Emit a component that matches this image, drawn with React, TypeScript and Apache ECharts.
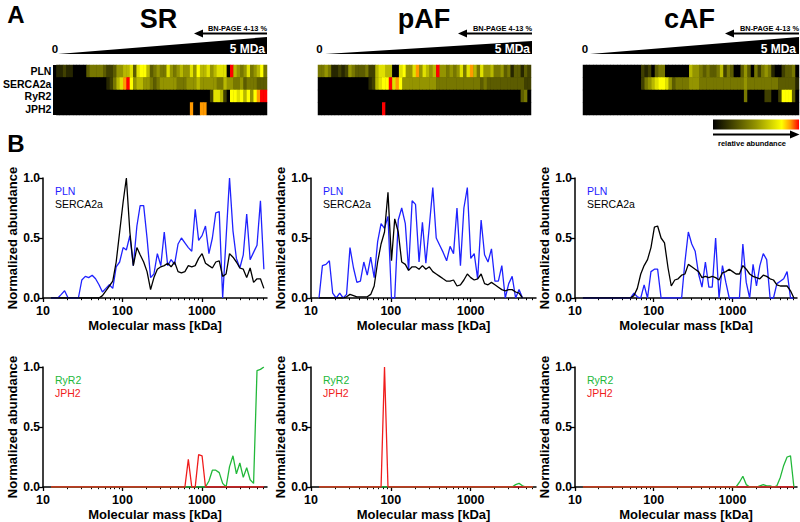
import React, { useEffect, useRef } from "react";
import * as echarts from "echarts";

// ---------- DATA ----------
// Molecular mass of each gel slice (kDa)
const massKDa = [
  12.6, 13.9, 15.4, 17.0, 18.7, 20.7, 22.9, 25.3, 27.9, 30.8,
  34.1, 37.6, 41.6, 45.9, 50.7, 56.0, 61.9, 68.4, 75.5, 83.4,
  92.2, 102, 112, 124, 137, 152, 167, 185, 204, 226,
  249, 275, 304, 336, 371, 410, 453, 501, 553, 611,
  675, 746, 824, 910, 1005, 1110, 1226, 1355, 1496, 1653,
  1826, 2017, 2228, 2462, 2719, 3004, 3318, 3665, 4049, 4473,
  4941, 5458, 6029,
];

const xMajorTicks = [10, 100, 1000];
const xMinorTicks = [20, 30, 40, 50, 60, 70, 80, 90, 200, 300, 400, 500, 600, 700, 800, 900, 2000, 3000, 4000, 5000, 6000];
const xMin = 10;
const xMax = 6600;

const samples = ["SR", "pAF", "cAF"];
const proteins = ["PLN", "SERCA2a", "RyR2", "JPH2"];

// Normalized abundance (line charts)
const srPLN = [
  0, 0, 0, 0.03, 0.06, 0, 0, 0, 0, 0.15,
  0.18, 0.17, 0.19, 0.16, 0.11, 0.05, 0.08, 0.11, 0.08, 0.26,
  0.3, 0.42, 0.4, 0.52, 0.27, 0.6, 0.77, 0.77, 0.5, 0.17,
  0.2, 0.37, 0.27, 0.55, 0.27, 0.32, 0.28, 0.45, 0.5, 0.46,
  0.42, 0.39, 0.74, 0.48, 0.52, 0.6, 0.37, 0.5, 0.71, 0.72,
  0, 0.5, 1.0, 0.56, 0.33, 0.25, 0.36, 0.7, 0.32, 0.38,
  0.44, 0.81, 0.24,
];
const srSERCA = [
  0, 0, 0, 0, 0, 0, 0, 0, 0, 0,
  0, 0, 0, 0, 0, 0.02, 0.06, 0.1, 0.14, 0.3,
  0.55, 0.8, 1.0, 0.55, 0.27, 0.42, 0.36, 0.3, 0.22, 0.07,
  0.17, 0.24, 0.26, 0.27, 0.29, 0.26, 0.3, 0.22, 0.21, 0.22,
  0.27, 0.26, 0.27, 0.33, 0.37, 0.29, 0.27, 0.25, 0.3, 0.31,
  0.18, 0.2, 0.37, 0.34, 0.3, 0.25, 0.24, 0.17, 0.25, 0.13,
  0.16, 0.16, 0.08,
];
const srRyR2 = [
  0, 0, 0, 0, 0, 0, 0, 0, 0, 0,
  0, 0, 0, 0, 0, 0, 0, 0, 0, 0,
  0, 0, 0, 0, 0, 0, 0, 0, 0, 0,
  0, 0, 0, 0, 0, 0, 0, 0, 0, 0,
  0, 0, 0, 0, 0, 0, 0.05, 0.14, 0.14, 0.12,
  0.03, 0, 0.17, 0.26, 0.11, 0.2, 0.08, 0.16, 0.06, 0.03,
  0.97, 0.98, 1.0,
];
const srJPH2 = [
  0, 0, 0, 0, 0, 0, 0, 0, 0, 0,
  0, 0, 0, 0, 0, 0, 0, 0, 0, 0,
  0, 0, 0, 0, 0, 0, 0, 0, 0, 0,
  0, 0, 0, 0, 0, 0, 0, 0, 0, 0,
  0.23, 0, 0, 0.27, 0.26, 0, 0, 0, 0, 0,
  0, 0, 0, 0, 0, 0, 0, 0, 0, 0,
  0, 0, 0,
];

const pafPLN = [
  0, 0.27, 0.28, 0.31, 0.04, 0, 0.04, 0, 0.03, 0.42,
  0.25, 0.13, 0.14, 0.3, 0.19, 0.34, 0.17, 0.47, 0.62, 0.58,
  0.68, 0, 0, 0.65, 0.75, 0.62, 0.23, 0.81, 0.78, 0.3,
  0.63, 0.29, 0.6, 0.92, 0.5, 0.44, 0.38, 0.31, 0.43, 0.37,
  0.75, 0.27, 0.75, 0.92, 0.33, 0.37, 0.16, 0.65, 0.36, 0.3,
  0.41, 0.14, 0.14, 0.27, 0, 0.12, 0.18, 0, 0.07, 0,
  null, null, null,
];
const pafSERCA = [
  0, 0, 0, 0, 0, 0, 0, 0, 0.01, 0.03,
  0.02, 0.01, 0.01, 0.01, 0.01, 0.03, 0.1, 0.3, 0.45, 0.55,
  0.88, 0.31, 0.66, 0.55, 0.3, 0.28, 0.23, 0.26, 0.26, 0.24,
  0.27, 0.24, 0.26, 0.22, 0.2, 0.18, 0.16, 0.14, 0.14, 0.15,
  0.1, 0.11, 0.15, 0.2, 0.17, 0.15, 0.16, 0.2, 0.12, 0.11,
  0.13, 0.11, 0.09, 0.07, 0.06, 0.07, 0.07, 0.05, 0.04, 0,
  null, null, null,
];
const pafRyR2 = [
  0, 0, 0, 0, 0, 0, 0, 0, 0, 0,
  0, 0, 0, 0, 0, 0, 0, 0, 0, 0,
  0, 0, 0, 0, 0, 0, 0, 0, 0, 0,
  0, 0, 0, 0, 0, 0, 0, 0, 0, 0,
  0, 0, 0, 0, 0, 0, 0, 0, 0, 0,
  0, 0, 0, 0, 0, 0, 0, 0.02, 0.03, 0.01,
  0, 0, 0,
];
const pafJPH2 = [
  0, 0, 0, 0, 0, 0, 0, 0, 0, 0,
  0, 0, 0, 0, 0, 0, 0, 0, 0, 1.0,
  0, 0, 0, 0, 0, 0, 0, 0, 0, 0,
  0, 0, 0, 0, 0, 0, 0, 0, 0, 0,
  0, 0, 0, 0, 0, 0, 0, 0, 0, 0,
  0, 0, 0, 0, 0, 0, 0, 0, 0, 0,
  0, 0, 0,
];

const cafPLN = [
  0, 0, 0, 0, 0, 0, 0, 0, 0, 0,
  0, 0, 0, 0, 0, 0.04, 0.01, 0, 0.11, 0,
  0.22, 0.24, 0.24, 0, 0, 0, 0, 0, 0, 0,
  0.3, 0.55, 0.45, 0.39, 0.2, 0.09, 0.3, 0.09, 0.09, 0.5,
  0, 0.27, 0.13, 0, 0, 0, 0, 0.45, 0.13, 0,
  0.28, 0.1, 0.27, 0.37, 0.32, 0, 0, 0.12, 0.14, 0.16,
  0.22, 0, 0,
];
const cafSERCA = [
  0, 0, 0, 0, 0, 0, 0, 0, 0, 0,
  0, 0, 0, 0, 0, 0.02, 0.08, 0.2, 0.27, 0.32,
  0.42, 0.59, 0.6, 0.5, 0.46, 0.25, 0.1, 0.15, 0.16, 0.19,
  0.2, 0.28, 0.26, 0.24, 0.22, 0.17, 0.18, 0.17, 0.18, 0.17,
  0.15, 0.21, 0.22, 0.24, 0.22, 0.2, 0.2, 0.27, 0.24, 0.2,
  0.18, 0.17, 0.16, 0.19, 0.18, 0.16, 0.15, 0.11, 0.1, 0.1,
  0.1, 0.06, 0,
];
const cafRyR2 = [
  0, 0, 0, 0, 0, 0, 0, 0, 0, 0,
  0, 0, 0, 0, 0, 0, 0, 0, 0, 0,
  0, 0, 0, 0, 0, 0, 0, 0, 0, 0,
  0, 0, 0, 0, 0, 0, 0, 0, 0, 0,
  0, 0, 0, 0, 0, 0, 0.04, 0.09, 0.02, 0,
  0, 0, 0.01, 0.02, 0.01, 0.01, 0, 0.01, 0.08, 0.18,
  0.25, 0.26, 0,
];
const cafJPH2 = [
  0, 0, 0, 0, 0, 0, 0, 0, 0, 0,
  0, 0, 0, 0, 0, 0, 0, 0, 0, 0,
  0, 0, 0, 0, 0, 0, 0, 0, 0, 0,
  0, 0, 0, 0, 0, 0, 0, 0, 0, 0,
  0, 0, 0, 0, 0, 0, 0, 0, 0, 0,
  0, 0, 0, 0, 0, 0, 0, 0, 0, 0,
  0, 0, 0,
];

// Heat map: relative abundance level per slice (0 = none ... 10 = max)
const hmSrPLN = [
  1, 1, 2, 1, 1, 0, 0, 0, 0, 3,
  4, 4, 4, 4, 3, 2, 2, 3, 5, 5,
  6, 6, 7, 3, 7, 8, 8, 6, 3, 4,
  5, 4, 4, 7, 5, 4, 5, 6, 5, 5,
  7, 5, 8, 6, 6, 7, 5, 6, 7, 7,
  7, 0, 10, 6, 5, 4, 5, 7, 4, 5,
  6, 8, 4,
];
const hmSrSERCA = [
  0, 0, 0, 0, 0, 0, 0, 0, 0, 0,
  0, 0, 0, 0, 0, 1, 2, 4, 6, 7,
  9, 10, 8, 5, 6, 6, 5, 5, 4, 3,
  4, 5, 5, 5, 5, 5, 4, 4, 4, 5,
  5, 5, 6, 5, 5, 5, 5, 5, 4, 4,
  6, 5, 5, 4, 4, 5, 3, 4, 4, 4,
  3, 3, 3,
];
const hmSrRyR2 = [
  0, 0, 0, 0, 0, 0, 0, 0, 0, 0,
  0, 0, 0, 0, 0, 0, 0, 0, 0, 0,
  0, 0, 0, 0, 0, 0, 0, 0, 0, 0,
  0, 0, 0, 0, 0, 0, 0, 0, 0, 0,
  0, 0, 0, 0, 0, 0, 2, 7, 7, 6,
  2, 0, 8, 8, 7, 8, 6, 8, 5, 8,
  9, 10, 10,
];
const hmSrJPH2 = [
  0, 0, 0, 0, 0, 0, 0, 0, 0, 0,
  0, 0, 0, 0, 0, 0, 0, 0, 0, 0,
  0, 0, 0, 0, 0, 0, 0, 0, 0, 0,
  0, 0, 0, 0, 0, 0, 0, 0, 0, 0,
  9, 0, 0, 9, 9, 0, 0, 0, 0, 0,
  0, 0, 0, 0, 0, 0, 0, 0, 0, 0,
  0, 0, 0,
];
const hmPafPLN = [
  4, 4, 5, 4, 1, 1, 2, 1, 2, 5,
  4, 3, 3, 3, 4, 2, 2, 6, 7, 7,
  6, 6, 0, 0, 7, 8, 5, 5, 7, 9,
  5, 7, 6, 5, 6, 10, 5, 5, 4, 5,
  4, 5, 7, 4, 7, 9, 6, 4, 7, 5,
  5, 6, 4, 4, 5, 3, 4, 1, 3, 3,
  1, 3, 2,
];
const hmPafSERCA = [
  0, 0, 0, 0, 0, 0, 0, 0, 0, 0,
  0, 0, 0, 0, 0, 1, 2, 6, 7, 8,
  8, 10, 7, 9, 8, 5, 5, 5, 5, 5,
  5, 5, 5, 5, 5, 4, 4, 4, 4, 4,
  4, 4, 4, 4, 4, 4, 4, 4, 3, 4,
  3, 3, 3, 3, 3, 3, 3, 3, 3, 3,
  3, 2, 2,
];
const hmPafRyR2 = [
  0, 0, 0, 0, 0, 0, 0, 0, 0, 0,
  0, 0, 0, 0, 0, 0, 0, 0, 0, 0,
  0, 0, 0, 0, 0, 0, 0, 0, 0, 0,
  0, 0, 0, 0, 0, 0, 0, 0, 0, 0,
  0, 0, 0, 0, 0, 0, 0, 0, 0, 0,
  0, 0, 0, 0, 0, 0, 0, 0, 0, 0,
  3, 4, 0,
];
const hmPafJPH2 = [
  0, 0, 0, 0, 0, 0, 0, 0, 0, 0,
  0, 0, 0, 0, 0, 0, 0, 0, 0, 10,
  0, 0, 0, 0, 0, 0, 0, 0, 0, 0,
  0, 0, 0, 0, 0, 0, 0, 0, 0, 0,
  0, 0, 0, 0, 0, 0, 0, 0, 0, 0,
  0, 0, 0, 0, 0, 0, 0, 0, 0, 0,
  0, 0, 0,
];
const hmCafPLN = [
  0, 0, 0, 0, 0, 0, 0, 0, 0, 0,
  0, 0, 0, 0, 0, 0, 0, 2, 1, 2,
  0, 3, 4, 4, 0, 0, 0, 0, 0, 0,
  0, 6, 5, 5, 4, 3, 4, 3, 3, 4,
  6, 2, 4, 3, 0, 0, 3, 5, 3, 0,
  4, 2, 4, 5, 4, 1, 0, 0, 2, 3,
  3, 4, 0,
];
const hmCafSERCA = [
  0, 0, 0, 0, 0, 0, 0, 0, 0, 0,
  0, 0, 0, 0, 0, 0, 0, 2, 4, 5,
  6, 7, 8, 8, 7, 5, 3, 4, 4, 4,
  4, 5, 5, 5, 4, 4, 4, 4, 4, 4,
  4, 4, 4, 4, 4, 4, 4, 5, 4, 4,
  4, 4, 4, 4, 4, 4, 4, 3, 3, 3,
  3, 3, 1,
];
const hmCafRyR2 = [
  0, 0, 0, 0, 0, 0, 0, 0, 0, 0,
  0, 0, 0, 0, 0, 0, 0, 0, 0, 0,
  0, 0, 0, 0, 0, 0, 0, 0, 0, 0,
  0, 0, 0, 0, 0, 0, 0, 0, 0, 0,
  0, 0, 0, 0, 0, 0, 0, 4, 0, 0,
  0, 0, 0, 2, 2, 0, 0, 2, 8, 8,
  8, 3, 0,
];
const hmCafJPH2 = [
  0, 0, 0, 0, 0, 0, 0, 0, 0, 0,
  0, 0, 0, 0, 0, 0, 0, 0, 0, 0,
  0, 0, 0, 0, 0, 0, 0, 0, 0, 0,
  0, 0, 0, 0, 0, 0, 0, 0, 0, 0,
  0, 0, 0, 0, 0, 0, 0, 0, 0, 0,
  0, 0, 0, 0, 0, 0, 0, 0, 0, 0,
  0, 0, 0,
];

// ---------- STYLE / LAYOUT ----------
const FONT = "'Liberation Sans', Arial, Helvetica, sans-serif";
const BLUE = "#1f22ff";
const GREEN = "#22b83a";
const RED = "#f01c1c";
const heatColors = [
  "#000000", "#262600", "#404000", "#5c5c00", "#777700", "#949400",
  "#b8b800", "#e0e000", "#ffff00", "#ff9a00", "#ff0000",
];

const lineGrids = [
  { left: 43, top: 178, width: 224, height: 120 },
  { left: 311, top: 178, width: 225, height: 120 },
  { left: 575, top: 178, width: 224, height: 120 },
  { left: 43, top: 367, width: 224, height: 120 },
  { left: 311, top: 367, width: 225, height: 120 },
  { left: 575, top: 367, width: 224, height: 120 },
];
const heatGrids = [
  { left: 53, top: 65, width: 214, height: 50 },
  { left: 318, top: 65, width: 213, height: 50 },
  { left: 583, top: 65, width: 216, height: 50 },
];

const linePanels = [
  [{ name: "PLN", data: srPLN, color: BLUE }, { name: "SERCA2a", data: srSERCA, color: "#000000" }],
  [{ name: "PLN", data: pafPLN, color: BLUE }, { name: "SERCA2a", data: pafSERCA, color: "#000000" }],
  [{ name: "PLN", data: cafPLN, color: BLUE }, { name: "SERCA2a", data: cafSERCA, color: "#000000" }],
  [{ name: "RyR2", data: srRyR2, color: GREEN }, { name: "JPH2", data: srJPH2, color: RED }],
  [{ name: "RyR2", data: pafRyR2, color: GREEN }, { name: "JPH2", data: pafJPH2, color: RED }],
  [{ name: "RyR2", data: cafRyR2, color: GREEN }, { name: "JPH2", data: cafJPH2, color: RED }],
];
const heatPanels = [
  [hmSrPLN, hmSrSERCA, hmSrRyR2, hmSrJPH2],
  [hmPafPLN, hmPafSERCA, hmPafRyR2, hmPafJPH2],
  [hmCafPLN, hmCafSERCA, hmCafRyR2, hmCafJPH2],
];

const topDecor = [
  { titleX: 158.5, wedge: [[58, 54], [267, 54], [267, 37]], zeroX: 55, mdaRight: 265, arrowLeft: 194, arrowRight: 267 },
  { titleX: 424, wedge: [[325, 54], [532, 54], [532, 41]], zeroX: 319.5, mdaRight: 530, arrowLeft: 458, arrowRight: 532 },
  { titleX: 689.5, wedge: [[590, 54], [799, 54], [799, 37]], zeroX: 585, mdaRight: 796, arrowLeft: 725, arrowRight: 799 },
];

function txt(x: number, y: number, text: string, size: number, o: any = {}) {
  return {
    type: "text",
    x,
    y,
    silent: true,
    z: 10,
    style: {
      text,
      font: `${o.weight || "bold"} ${size}px ${FONT}`,
      fill: o.color || "#000",
      textAlign: o.align || "center",
      textVerticalAlign: "middle",
    },
  };
}

function buildOption() {
  const grid: any[] = [];
  const xAxis: any[] = [];
  const yAxis: any[] = [];
  const series: any[] = [];
  const graphic: any[] = [];

  lineGrids.forEach((g, i) => {
    grid.push({ ...g, containLabel: false });
    // main log axis
    xAxis.push({
      type: "log",
      logBase: 10,
      gridIndex: i,
      min: xMin,
      max: xMax,
      position: "bottom",
      axisLine: { show: true, onZero: false, lineStyle: { color: "#000", width: 1.5 } },
      axisTick: { show: false },
      splitLine: { show: false },
      minorTick: { show: false },
      axisLabel: {
        formatter: (v: number) => (xMajorTicks.includes(Math.round(v)) ? String(Math.round(v)) : ""),
        fontFamily: FONT,
        fontWeight: "bold",
        fontSize: 12.5,
        color: "#000",
        margin: 6,
      },
      name: "Molecular mass [kDa]",
      nameLocation: "middle",
      nameGap: 21,
      nameTextStyle: { fontFamily: FONT, fontWeight: "bold", fontSize: 13, color: "#000" },
    });
    // major ticks overlay (log10 space)
    xAxis.push({
      type: "value",
      gridIndex: i,
      min: Math.log10(xMin),
      max: Math.log10(xMax),
      position: "bottom",
      axisLine: { show: false, onZero: false },
      axisLabel: { show: false },
      splitLine: { show: false },
      axisTick: { show: true, length: 4, customValues: xMajorTicks.map((v) => Math.log10(v)), lineStyle: { color: "#000", width: 1.3 } },
    });
    // minor ticks overlay
    xAxis.push({
      type: "value",
      gridIndex: i,
      min: Math.log10(xMin),
      max: Math.log10(xMax),
      position: "bottom",
      axisLine: { show: false, onZero: false },
      axisLabel: { show: false },
      splitLine: { show: false },
      axisTick: { show: true, length: 2.2, customValues: xMinorTicks.map((v) => Math.log10(v)), lineStyle: { color: "#000", width: 1 } },
    });
    yAxis.push({
      type: "value",
      gridIndex: i,
      min: 0,
      max: 1,
      interval: 0.5,
      axisLine: { show: true, lineStyle: { color: "#000", width: 1.5 } },
      axisTick: { show: true, length: 4, lineStyle: { color: "#000", width: 1.3 } },
      splitLine: { show: false },
      axisLabel: {
        formatter: (v: number) => v.toFixed(1),
        fontFamily: FONT,
        fontWeight: "bold",
        fontSize: 12,
        color: "#000",
        margin: 3,
      },
      name: "Normalized abundance",
      nameLocation: "middle",
      nameRotate: 90,
      nameGap: 20,
      nameTextStyle: { fontFamily: FONT, fontWeight: "bold", fontSize: 13, color: "#000" },
    });
    linePanels[i].forEach((s, j) => {
      series.push({
        type: "line",
        name: s.name,
        xAxisIndex: i * 3,
        yAxisIndex: i,
        data: massKDa.map((m, k) => [m, s.data[k]]),
        symbol: "none",
        showSymbol: false,
        connectNulls: false,
        lineStyle: { color: s.color, width: 1.3 },
        itemStyle: { color: s.color },
        silent: true,
        z: 3 + j,
      });
      graphic.push(txt(g.left + 12, g.top + 13 + j * 12.5, s.name, 10.5, { weight: "normal", color: s.color, align: "left" }));
    });
  });

  const heatSeriesIdx: number[] = [];
  heatGrids.forEach((g, j) => {
    const gi = lineGrids.length + j;
    grid.push({ ...g, containLabel: false });
    xAxis.push({
      type: "category",
      gridIndex: gi,
      data: massKDa.map((_, c) => String(c)),
      show: false,
    });
    yAxis.push({
      type: "category",
      gridIndex: gi,
      data: proteins,
      inverse: true,
      axisLine: { show: false },
      axisTick: { show: false },
      splitLine: { show: false },
      axisLabel: {
        show: j === 0,
        interval: 0,
        fontFamily: FONT,
        fontWeight: "bold",
        fontSize: 10.5,
        color: "#000",
        margin: 5,
      },
    });
    const rows = heatPanels[j];
    const data: any[] = [];
    rows.forEach((row, r) => row.forEach((v, c) => data.push([c, r, v])));
    heatSeriesIdx.push(series.length);
    series.push({
      type: "heatmap",
      xAxisIndex: lineGrids.length * 3 + j,
      yAxisIndex: lineGrids.length + j,
      data,
      itemStyle: { borderWidth: 0 },
      emphasis: { disabled: true },
      silent: true,
    });
    graphic.push({
      type: "rect",
      shape: { x: g.left, y: g.top, width: g.width, height: g.height },
      style: { fill: "#000" },
      silent: true,
      z: 0,
    });
  });

  // Panel letters and titles
  graphic.push(txt(16, 14, "A", 24));
  graphic.push(txt(16, 143, "B", 24));
  topDecor.forEach((d, j) => {
    graphic.push(txt(d.titleX, 18.5, samples[j], 27));
    graphic.push({ type: "polygon", shape: { points: d.wedge }, style: { fill: "#000" }, silent: true, z: 5 });
    graphic.push(txt(d.zeroX, 49, "0", 11.5));
    graphic.push(txt(d.mdaRight, 49, "5 MDa", 12, { color: "#fff", align: "right" }));
    graphic.push({
      type: "line",
      shape: { x1: d.arrowLeft + 6, y1: 33.5, x2: d.arrowRight, y2: 33.5 },
      style: { stroke: "#000", lineWidth: 2 },
      silent: true,
      z: 5,
    });
    graphic.push({
      type: "polygon",
      shape: { points: [[d.arrowLeft, 33.5], [d.arrowLeft + 9, 29.5], [d.arrowLeft + 9, 37.5]] },
      style: { fill: "#000" },
      silent: true,
      z: 5,
    });
    graphic.push(txt(d.arrowRight, 28, "BN-PAGE 4-13 %", 7.4, { align: "right" }));
  });

  // colour bar
  graphic.push({
    type: "rect",
    shape: { x: 713, y: 119.5, width: 86, height: 10 },
    style: {
      fill: new echarts.graphic.LinearGradient(0, 0, 1, 0, [
        { offset: 0, color: "#000000" },
        { offset: 0.5, color: "#949400" },
        { offset: 0.8, color: "#ffff00" },
        { offset: 0.9, color: "#ff9a00" },
        { offset: 1, color: "#ff0000" },
      ]),
    },
    silent: true,
    z: 5,
  });
  graphic.push({
    type: "line",
    shape: { x1: 713, y1: 134.5, x2: 792, y2: 134.5 },
    style: { stroke: "#000", lineWidth: 2 },
    silent: true,
    z: 5,
  });
  graphic.push({
    type: "polygon",
    shape: { points: [[799.5, 134.5], [790, 130.5], [790, 138.5]] },
    style: { fill: "#000" },
    silent: true,
    z: 5,
  });
  graphic.push(txt(752, 143, "relative abundance", 7.5));

  return {
    animation: false,
    backgroundColor: "#ffffff",
    textStyle: { fontFamily: FONT },
    grid,
    xAxis,
    yAxis,
    visualMap: {
      type: "continuous",
      show: false,
      min: 0,
      max: 10,
      dimension: 2,
      seriesIndex: heatSeriesIdx,
      inRange: { color: heatColors },
    },
    series,
    graphic,
  };
}

export default function App() {
  const ref = useRef<HTMLDivElement>(null);
  useEffect(() => {
    if (!ref.current) return;
    const chart = echarts.init(ref.current, undefined, { renderer: "svg" });
    chart.setOption(buildOption() as any);
    return () => chart.dispose();
  }, []);
  return (
    <div
      ref={ref}
      style={{ position: "fixed", left: 0, top: 0, width: 800, height: 522, background: "#fff" }}
    />
  );
}
